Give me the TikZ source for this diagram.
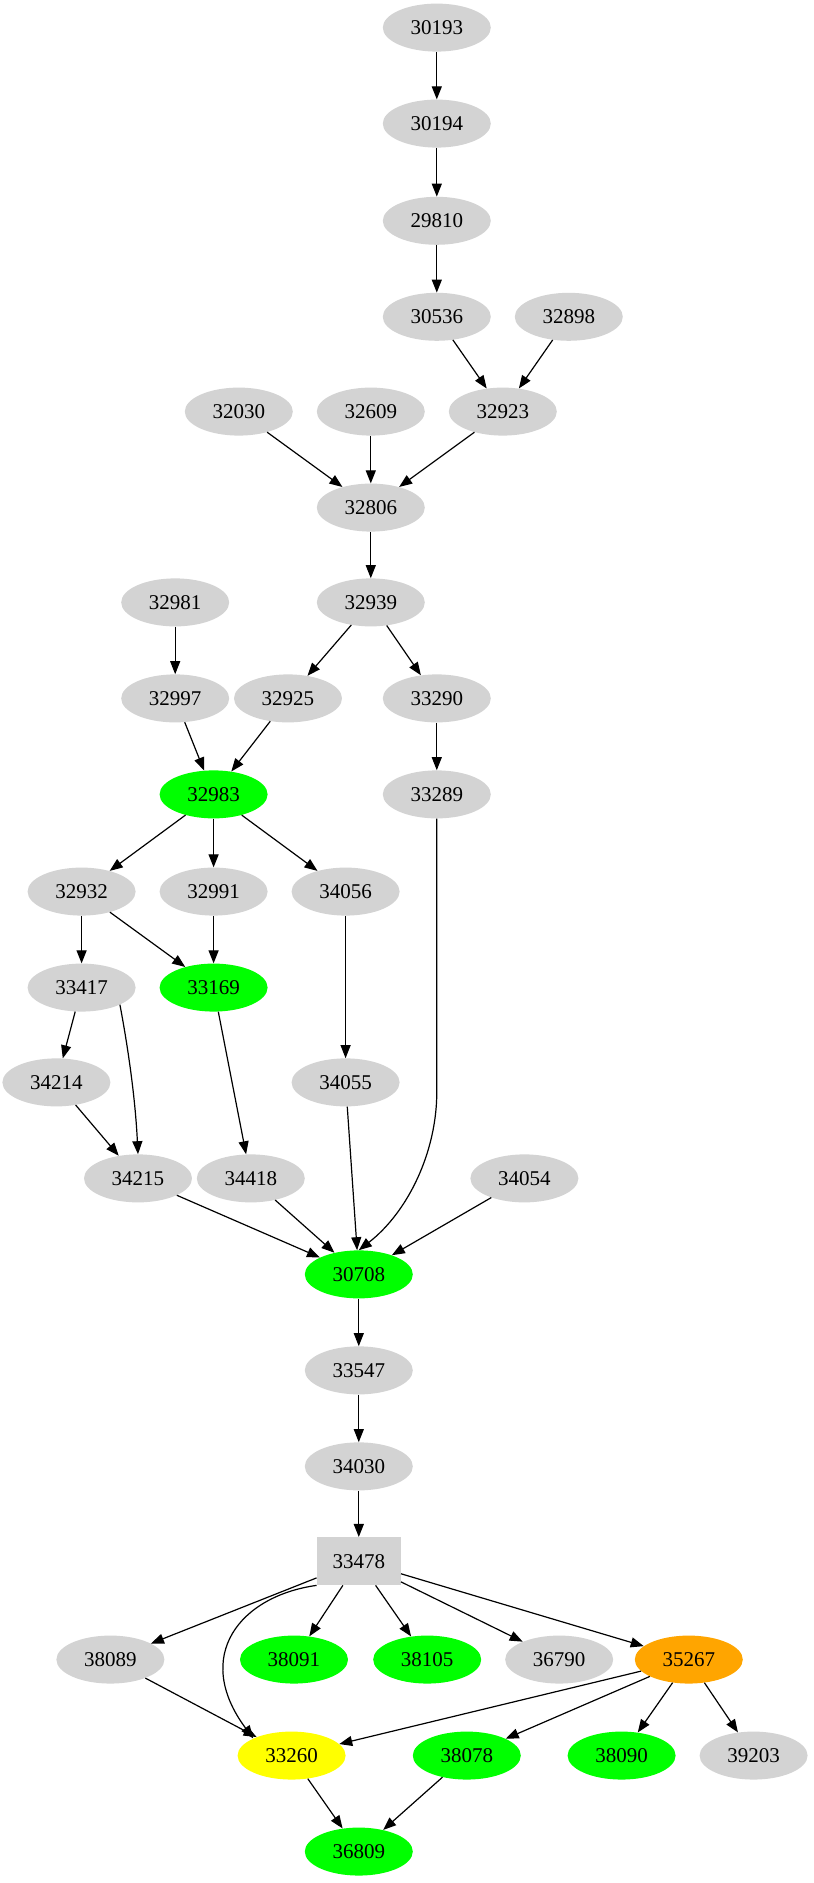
\documentclass[tikz,border=0pt]{standalone}
\usepackage{fontspec}
\setmainfont{Liberation Serif}
\usetikzlibrary{shapes.geometric,arrows.meta}
\definecolor{gry}{RGB}{211,211,211}
\definecolor{grn}{RGB}{0,255,0}
\definecolor{orn}{RGB}{255,165,0}
\definecolor{yel}{RGB}{255,255,0}
\begin{document}
\begin{tikzpicture}[x=1.2pt,y=-1.2pt,
  nd/.style={ellipse,fill=gry,minimum width=108pt,minimum height=48pt,inner sep=0pt,font=\fontsize{21}{21}\selectfont},
  g/.style={fill=grn}, o/.style={fill=orn}, yy/.style={fill=yel},
  bx/.style={rectangle,fill=gry,minimum width=84pt,minimum height=48pt,font=\fontsize{21}{21}\selectfont},
  ar/.style={-{Triangle[length=13pt,width=10pt]},line width=1.2pt}]
\useasboundingbox (0,0) rectangle (678.3,1569.2);
\foreach \n/\x/\y/\s in {30193/364/23/nd,30194/364/103/nd,29810/364/184/nd,30536/364/264/nd,32898/474/264/nd,
 32030/199/343/nd,32609/309/343/nd,32923/419/343/nd,32806/309/423/nd,32981/146/502/nd,32939/309/502/nd,
 32997/146/582/nd,32925/240/582/nd,33290/364/582/nd,33289/364/662/nd,32932/68/743/nd,32991/178/743/nd,
 34056/288/743/nd,33417/68/823/nd,34214/47/902/nd,34055/288/902/nd,34215/115/982/nd,34418/209/982/nd,
 34054/437/982/nd,33547/299/1142/nd,34030/299/1222/nd,38089/92/1383/nd,36790/466/1383/nd,39203/628/1463/nd}
  \node[\s] (n\n) at (\x,\y) {\n};
\foreach \n/\x/\y in {32983/178/662,33169/178/823,30708/299/1062,38091/245/1383,38105/356/1383,38078/389/1463,38090/518/1463,36809/299/1543}
  \node[nd,g] (n\n) at (\x,\y) {\n};
\node[nd,o] (n35267) at (574,1383) {35267};
\node[nd,yy] (n33260) at (243,1463) {33260};
\node[bx] (n33478) at (299,1301) {33478};
\foreach \a/\b in {30193/30194,30194/29810,29810/30536,30536/32923,32898/32923,32030/32806,32609/32806,32923/32806,
 32806/32939,32981/32997,32939/32925,32939/33290,32997/32983,32925/32983,33290/33289,32983/32932,32983/32991,
 32983/34056,32932/33417,32932/33169,32991/33169,33417/34214,34214/34215,34056/34055,33169/34418,
 34215/30708,34418/30708,34055/30708,34054/30708,30708/33547,33547/34030,34030/33478,33478/38089,33478/38091,
 33478/38105,33478/36790,33478/35267,38089/33260,35267/33260,35267/38078,35267/38090,35267/39203,33260/36809,38078/36809}
  \draw[ar] (n\a) -- (n\b);
\draw[ar] (n33417.south east) .. controls (108,880) and (113,920) .. (n34215.north);
\draw[ar] (n33289.south) -- (364,910) .. controls (364,960) and (340,1010) .. (n30708.north);
\draw[ar] (n33478.south west) .. controls (200,1330) and (160,1380) .. (n33260.north west);
\end{tikzpicture}
\end{document}
